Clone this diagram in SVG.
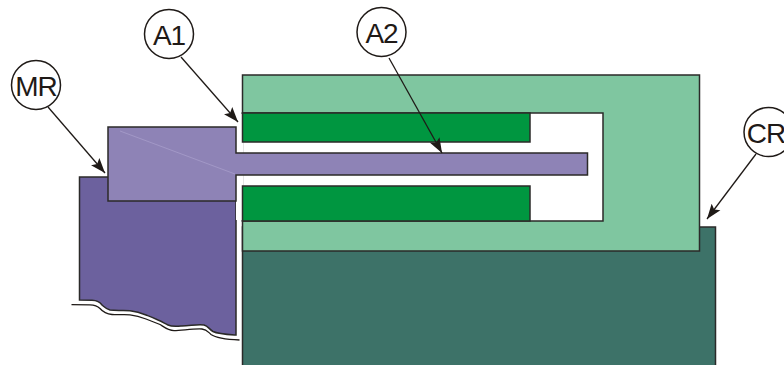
<svg xmlns="http://www.w3.org/2000/svg" width="784" height="365" viewBox="0 0 784 365">
<defs>
<marker id="arrow" markerUnits="userSpaceOnUse" markerWidth="16" markerHeight="12" refX="15" refY="6" orient="auto"><path d="M0,0.500 L15,6 L0,11.500 L3,6 Z" fill="#1f1a17"/></marker>
</defs>
<style>
.e{stroke:#2b2a29;stroke-width:1.5}
.l{fill:none;stroke:#1f1a17;stroke-width:1.3;marker-end:url(#arrow)}
.c{fill:#fff;stroke:#1f1a17;stroke-width:1.5}
.t{font-family:"Liberation Sans",Arial,sans-serif;font-size:28px;letter-spacing:-1px;fill:#1f1a17;text-anchor:middle}
</style>
<g id="mr-base">
<path class="e" fill="#6c619e" d="M79.500,177 H236 V335 C228,334.500 218,334 213,331.500 C209,329 208,326 204,325 C197,324 190,326 182,326 C176,326.500 172,327 168,325 C164,323 162,321.500 158,320 C153,317.500 150,316.500 146,315 C141,313 136,311.500 130,310.700 C124,310 116,311 110,310 C106,309 104,306.500 102,305 C100,302 97,300.500 92,300.300 L79.500,300 Z"/>
<path fill="none" stroke="#1f1a17" stroke-width="1.3" d="M71.500,304.700 L90,304.800 C96,305 98,306.500 100,308.500 C103,312 106,314 112,314.500 C118,315 124,314.300 130,314.800 C136,315.500 141,317 146,319 C151,321 155,322.500 160,324.500 C164,327 168,330.500 174,330.700 C182,330.700 192,328.500 202,329 C207,329.500 208,332 211,334.500 C216,338 228,339.500 239.500,340"/>
</g>
<g id="cr-base"><rect class="e" fill="#3d7268" x="242.500" y="227" width="473" height="139"/></g>
<g id="cr-body">
<rect class="e" fill="#7fc6a0" x="242.500" y="75" width="457" height="176"/>
<path class="e" fill="#fff" d="M242.500,113 H603 V221 H242.500 Z"/>
<rect x="236" y="114" width="7.500" height="106" fill="#fff"/>
<rect class="e" fill="#009640" x="242.500" y="113" width="287.500" height="29"/>
<rect class="e" fill="#009640" x="242.500" y="186" width="287.500" height="35"/>
</g>
<g id="mr-body">
<path class="e" fill="#8e83b6" d="M108,127 H236 V153 H587.500 V175 H236 V201 H108 Z"/>
<path fill="none" stroke="#a79dca" stroke-width="0.8" d="M120,131 L235,174"/>
</g>
<g id="connectors">
<path class="l" d="M48,107 L105,173"/>
<path class="l" d="M181,57 L238,122"/>
<path class="l" d="M389,58 L442,153"/>
<path class="l" d="M756,154 L707,219"/>
</g>
<g id="label-mr"><circle class="c" cx="36" cy="85" r="24.500"/><text class="t" x="36" y="96">MR</text></g>
<g id="label-a1"><circle class="c" cx="169" cy="34" r="24.500"/><text class="t" x="169" y="45">A1</text></g>
<g id="label-a2"><circle class="c" cx="381.500" cy="32" r="24.500"/><text class="t" x="381.500" y="43">A2</text></g>
<g id="label-cr"><circle class="c" cx="768.500" cy="132" r="24.500"/><text class="t" x="766" y="143">CR</text></g>
</svg>
